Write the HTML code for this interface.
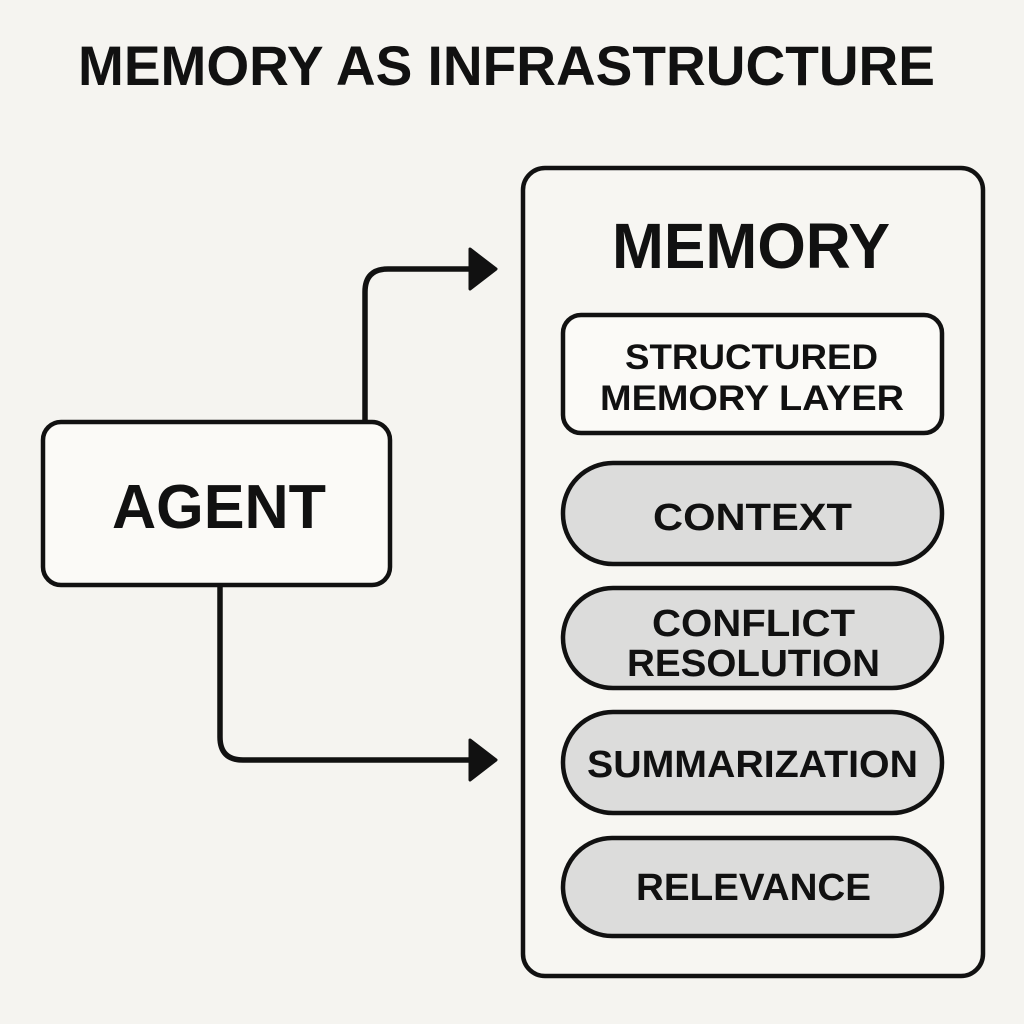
<!DOCTYPE html>
<html><head><meta charset="utf-8"><style>
html,body{margin:0;padding:0;background:#f5f4f0;}
svg{display:block;}
text{font-family:"Liberation Sans",sans-serif;font-weight:bold;fill:#111;}
</style></head><body>
<svg width="1024" height="1024" viewBox="0 0 1024 1024" xmlns="http://www.w3.org/2000/svg">
<rect width="1024" height="1024" fill="#f5f4f0"/>
<text x="78" y="85" font-size="56" textLength="857" lengthAdjust="spacingAndGlyphs">MEMORY AS INFRASTRUCTURE</text>

<rect x="523" y="168" width="460" height="808" rx="22" fill="#f7f6f2" stroke="#111" stroke-width="4.5"/>
<text x="612" y="268" font-size="64" textLength="278" lengthAdjust="spacingAndGlyphs">MEMORY</text>

<rect x="563" y="315" width="379" height="118" rx="18" fill="#fbfaf7" stroke="#111" stroke-width="4.5"/>
<text x="625" y="369" font-size="35" textLength="253" lengthAdjust="spacingAndGlyphs">STRUCTURED</text>
<text x="600" y="410" font-size="35" textLength="304" lengthAdjust="spacingAndGlyphs">MEMORY LAYER</text>

<g fill="#dcdcdb" stroke="#111" stroke-width="4.5">
<rect x="563" y="463" width="379" height="101" rx="50"/>
<rect x="563" y="588" width="379" height="100" rx="50"/>
<rect x="563" y="712" width="379" height="101" rx="50"/>
<rect x="563" y="838" width="379" height="98" rx="49"/>
</g>
<text x="653" y="530" font-size="38" textLength="199" lengthAdjust="spacingAndGlyphs">CONTEXT</text>
<text x="652" y="636" font-size="38" textLength="203" lengthAdjust="spacingAndGlyphs">CONFLICT</text>
<text x="627" y="676" font-size="38" textLength="253" lengthAdjust="spacingAndGlyphs">RESOLUTION</text>
<text x="587" y="777" font-size="38" textLength="331" lengthAdjust="spacingAndGlyphs">SUMMARIZATION</text>
<text x="636" y="900" font-size="38" textLength="235" lengthAdjust="spacingAndGlyphs">RELEVANCE</text>

<rect x="43" y="422" width="347" height="163" rx="18" fill="#fbfaf7" stroke="#111" stroke-width="4.5"/>
<text x="112" y="528" font-size="62" textLength="214" lengthAdjust="spacingAndGlyphs">AGENT</text>

<g fill="none" stroke="#111" stroke-width="5.5">
<path d="M365 420 V292 Q365 269 388 269 H472"/>
<path d="M220 587 V737 Q220 760 243 760 H472"/>
</g>
<g fill="#111" stroke="#111" stroke-width="3" stroke-linejoin="round">
<path d="M470 249 L496 269 L470 289 Z"/>
<path d="M470 740 L496 760 L470 780 Z"/>
</g>
</svg>
</body></html>
